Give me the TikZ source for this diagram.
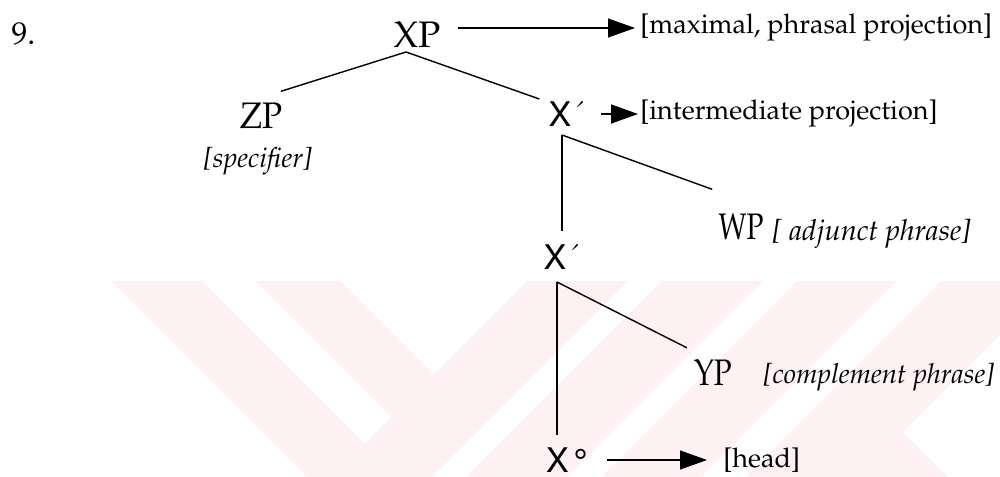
\documentclass[tikz,border=0pt]{standalone}
\usepackage[T1]{fontenc}
\usepackage{mathpazo}
\usepackage[scaled=0.92]{helvet}
\usepackage{graphicx}
\usetikzlibrary{arrows.meta}

\definecolor{stripe}{RGB}{254,241,243}

\begin{document}
\begin{tikzpicture}[
        x=0.2mm, y=-0.2mm,
        cat/.style={inner sep=0pt, font=\fontsize{21}{25}\selectfont},
        bar/.style={inner sep=0pt, font=\fontsize{21}{25}\selectfont\sffamily},
        note/.style={inner sep=0pt, anchor=west, font=\fontsize{15.4}{18}\selectfont},
        gloss/.style={inner sep=0pt, font=\fontsize{15.7}{18}\selectfont\itshape},
        branch/.style={draw, line width=0.8pt},
        pointer/.style={draw, line width=0.8pt, -{Triangle[length=5.4mm, width=3.8mm]}}
    ]
    \useasboundingbox (0,0) rectangle (1000,477);

    % faint stripes behind the lower half
    \begin{scope}
        \clip (0,281) rectangle (1000,477);
        \fill[stripe] (65,235) -- (110.5,189.5) -- (364.5,443.5) -- (319,489) -- cycle;
        \fill[stripe] (187,213) -- (229.5,170.5) -- (433.5,374.5) -- (391,417) -- cycle;
        \fill[stripe] (254,554) -- (754,54) -- (804.5,104.5) -- (304.5,604.5) -- cycle;
        \fill[stripe] (321.5,621.5) -- (871.5,71.5) -- (922,122) -- (372,672) -- cycle;
        \fill[stripe] (389,689) -- (939,139) -- (989,189) -- (439,739) -- cycle;
        \fill[stripe] (461,761) -- (850,1150) -- (1235.5,764.5) -- (903,432)
            -- (1167.5,167.5) -- (1111,111) -- cycle;
    \end{scope}

    \node[cat, font=\fontsize{18}{22}\selectfont] (num) at (23.5,33.5) {9.};

    % tree
    \node[cat] (xp) at (417,35) {XP};
    \node[cat] (zp) at (261,116) {\scalebox{0.9}[1]{ZP}};
    \node[bar] (xbar) at (568,114) {X\kern-0.5pt{\rmfamily\textasciiacute}};
    \node[cat] (wp) at (741,227) {\scalebox{0.76}[1]{WP}};
    \node[bar] (xbarlow) at (563,257) {X\kern-0.5pt{\rmfamily\textasciiacute}};
    \node[cat] (yp) at (713,373) {\scalebox{0.8}[1]{YP}};
    \node[bar] (xhead) at (565,460) {X\kern1pt\textdegree};

    \node[gloss] (spec) at (258,161) {[specifier]};
    \node[gloss, anchor=west, font=\fontsize{16.5}{19}\selectfont\itshape] (adjunct)
        at (772,234) {[\ adjunct phrase]};
    \node[gloss, anchor=west] (compl) at (763,377) {[complement phrase]};

    \node[note] (maxproj) at (640,28) {[maximal, phrasal projection]};
    \node[note] (interproj) at (640,114) {[intermediate projection]};
    \node[note] (headnote) at (723,460) {[head]};

    \coordinate (xpfork) at (406,52);
    \draw[branch] (xpfork) -- ([shift={(-1.5,-11.5)}]zp.north east);
    \draw[branch] (xpfork) -- ([shift={(-9,-2)}]xbar.north west);

    \coordinate (xbarfork) at (562,135);
    \draw[branch, shorten >=2.6mm] (xbarfork) -- (xbarfork |- xbarlow.north);
    \draw[branch] (xbarfork) -- ([shift={(-6,-24.5)}]wp.north west);

    \coordinate (lowfork) at (557,282);
    \draw[branch, shorten >=2.6mm] (lowfork) -- (lowfork |- xhead.north);
    \draw[branch] (lowfork) -- ([shift={(-7,-12)}]yp.north west);

    % projection arrows
    \draw[pointer] ([shift={(17,-7)}]xp.east) -- ([xshift=-1mm]maxproj.west);
    \draw[pointer] ([xshift=2.6mm]xbar.east) -- ([xshift=-0.4mm]interproj.west);
    \draw[pointer] ([xshift=4.6mm]xhead.east) -- ([xshift=-3.2mm]headnote.west);
\end{tikzpicture}
\end{document}
